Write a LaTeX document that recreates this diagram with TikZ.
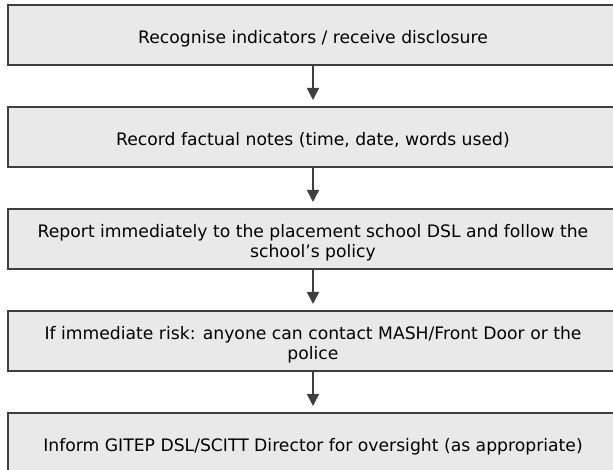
\documentclass[tikz,border=0pt]{standalone}
\usepackage{fontspec}
\setmainfont{DejaVu Sans}
\usepackage{xcolor}
\usetikzlibrary{positioning,arrows.meta}
\definecolor{boxfill}{HTML}{E9E9E9}
\definecolor{boxline}{HTML}{3F3F3F}
\tikzset{>={Triangle[width=12pt,length=12pt]}}
\tikzset{stepbox/.style={rectangle, draw=boxline, fill=boxfill, line width=2pt,
    minimum width=610pt, minimum height=60pt, align=center,
    font=\fontsize{17.2}{20}\selectfont}}

\begin{document}
\begin{tikzpicture}[x=1pt, y=-1pt]
  \newcommand{\boxgap}{40pt}
  \newcommand{\lift}{\rule{0pt}{20pt}}
  \useasboundingbox (0,0) rectangle (613,470);

  \node[stepbox] (recog) at (313,35) {\lift Recognise indicators / receive disclosure};
  \node[stepbox, below=\boxgap of recog] (record) {\lift Record factual notes (time, date, words used)};
  \node[stepbox, below=\boxgap of record] (report) %%
  {\lift Report immediately to the placement school DSL and follow the\\school’s policy};
  \node[stepbox, below=\boxgap of report] (risk) %%
  {\lift If immediate risk: anyone can contact MASH/Front Door or the\\police};
  \node[stepbox, below=\boxgap of risk] (inform) %%
  {\lift Inform GITEP DSL/SCITT Director for oversight (as appropriate)};

  \foreach \a/\b in {recog/record, record/report, report/risk, risk/inform}
    \draw[->, draw=boxline, fill=boxline, line width=1.5pt, shorten >=6pt] (\a) -- (\b);
\end{tikzpicture}
\end{document}
